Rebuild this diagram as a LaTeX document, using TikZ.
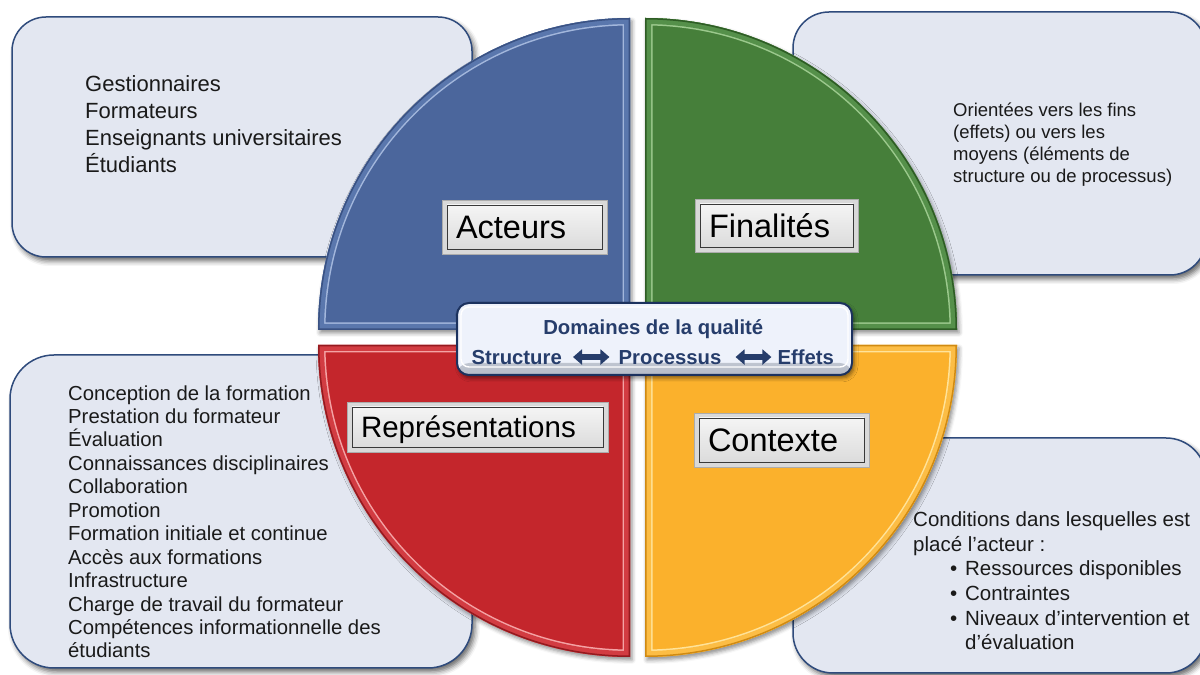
\documentclass[tikz,border=0pt]{standalone}
\usepackage{fontspec}
\setmainfont{Liberation Sans}
\usetikzlibrary{arrows.meta,shadows.blur}

% palette
\definecolor{boxfill}{HTML}{E3E7F1}
\definecolor{boxedge}{HTML}{2F4B7C}
\definecolor{bodytext}{HTML}{1A1A1A}
\definecolor{navytext}{HTML}{263D6B}
\definecolor{cboxfill}{HTML}{EEF2FB}
\definecolor{cboxgrey}{HTML}{B4BAC6}
\definecolor{cboxedge}{HTML}{1C325E}

\definecolor{blueQ}{HTML}{4B669C}
\definecolor{blueEdge}{HTML}{3A5283}
\definecolor{blueBev}{HTML}{5A77AD}
\definecolor{blueHi}{HTML}{A3B7DC}

\definecolor{greenQ}{HTML}{467F3A}
\definecolor{greenEdge}{HTML}{2E5C25}
\definecolor{greenBev}{HTML}{55904A}
\definecolor{greenHi}{HTML}{9CC98D}

\definecolor{redQ}{HTML}{C4262C}
\definecolor{redEdge}{HTML}{951A1F}
\definecolor{redBev}{HTML}{D23C42}
\definecolor{redHi}{HTML}{F4A3A5}

\definecolor{yellowQ}{HTML}{FBB12C}
\definecolor{yellowEdge}{HTML}{D08A12}
\definecolor{yellowBev}{HTML}{FCBD45}
\definecolor{yellowHi}{HTML}{FFE39A}

% quarter disc with a bevelled rim: #1 path, #2 fill, #3 rim, #4 bevel band, #5 highlight
\newcommand{\bevelquad}[5]{%
  \fill[#2, blur shadow={shadow xshift=2pt,shadow yshift=-3pt,shadow blur radius=4pt,shadow opacity=45}] #1;
  \begin{scope}
    \clip #1;
    \draw[line width=15pt, #5] #1;
    \draw[line width=12pt, #4] #1;
    \draw[line width=3pt, #3] #1;
  \end{scope}}

\begin{document}
\begin{tikzpicture}[x=1pt,y=1pt,
  infobox/.style={draw=boxedge, line width=1.5pt, fill=boxfill, inner sep=0pt,
    blur shadow={shadow xshift=3pt,shadow yshift=-4pt,shadow blur radius=5pt,shadow opacity=60}},
  listtext/.style={anchor=base west, align=left, inner sep=0pt, text=bodytext},
  labelbox/.style={draw=gray!65, line width=0.8pt, fill=gray!30, inner xsep=14pt, inner ysep=0pt,
    align=left, text depth=0pt, text=black,
    path picture={\draw[gray!45!black, line width=0.9pt, top color=gray!6, bottom color=gray!30]
      ([shift={(5pt,5pt)}]path picture bounding box.south west) rectangle
      ([shift={(-5pt,-5pt)}]path picture bounding box.north east);}},
  ctext/.style={font=\bfseries\fontsize{20.3}{24}\selectfont, text=navytext, inner sep=0pt,
    text height=14.5pt, text depth=0pt},
  dblarrow/.style={draw=navytext, line width=6pt,
    {Triangle[length=9pt,width=15pt]}-{Triangle[length=9pt,width=15pt]}}
]
\useasboundingbox (0,0) rectangle (1200,675);
\clip (0,0) rectangle (1200,675);

% ---- description panels (behind the disc) ----
\node[infobox, rounded corners=34pt, minimum width=460pt, minimum height=240pt] (acteursbox) at (242,538) {};
\node[infobox, rounded corners=36pt, minimum width=413pt, minimum height=263pt] (finalitesbox) at (999.5,531.5) {};
\node[infobox, rounded corners=44pt, minimum width=462pt, minimum height=313pt] (representbox) at (241,163.5) {};
\node[infobox, rounded corners=40pt, minimum width=413pt, minimum height=235pt] (contextebox) at (999.5,119.5) {};

% lists: anchored on the baseline of their last line
\node[listtext, font=\fontsize{22}{27}\selectfont] (acteurslist) at (85,502)
  {Gestionnaires\\Formateurs\\Enseignants universitaires\\Étudiants};

\node[listtext, font=\fontsize{18.5}{22}\selectfont] (finaliteslist) at (953,492)
  {Orientées vers les fins\\(effets) ou vers les\\moyens (éléments de\\structure ou de processus)};

\node[listtext, font=\fontsize{20.3}{23.45}\selectfont] (representlist) at (68,17)
  {Conception de la formation\\Prestation du formateur\\Évaluation\\Connaissances disciplinaires\\%
   Collaboration\\Promotion\\Formation initiale et continue\\Accès aux formations\\Infrastructure\\%
   Charge de travail du formateur\\Compétences informationnelle des\\étudiants};

\node[listtext, font=\fontsize{20.5}{24.6}\selectfont] (contextelist) at (913,25.3)
  {Conditions dans lesquelles est\\placé l’acteur :\\%
   \hspace*{37pt}\makebox[15pt][l]{\textbullet}Ressources disponibles\\%
   \hspace*{37pt}\makebox[15pt][l]{\textbullet}Contraintes\\%
   \hspace*{37pt}\makebox[15pt][l]{\textbullet}Niveaux d’intervention et\\%
   \hspace*{52pt}d’évaluation};

% ---- the four quarters of the disc ----
\bevelquad{(630,345) -- (630,657) arc[start angle=90,end angle=180,radius=312] -- cycle}{blueQ}{blueEdge}{blueBev}{blueHi}
\bevelquad{(645,345) -- (957,345) arc[start angle=0,end angle=90,radius=312] -- cycle}{greenQ}{greenEdge}{greenBev}{greenHi}
\bevelquad{(630,330) -- (318,330) arc[start angle=180,end angle=270,radius=312] -- cycle}{redQ}{redEdge}{redBev}{redHi}
\bevelquad{(645,330) -- (645,18) arc[start angle=270,end angle=360,radius=312] -- cycle}{yellowQ}{yellowEdge}{yellowBev}{yellowHi}

% ---- quarter labels ----
\node[labelbox, font=\fontsize{32.5}{36}\selectfont, text height=23.4pt,
      text width=137pt, minimum height=54pt] (acteurs) at (524.5,448) {Acteurs};
\node[labelbox, font=\fontsize{32.5}{36}\selectfont, text height=23.4pt,
      text width=135pt, minimum height=53pt] (finalites) at (776.5,449.5) {Finalités};
\node[labelbox, font=\fontsize{29.5}{33}\selectfont, text height=21.2pt,
      text width=233pt, minimum height=50pt] (represent) at (477.5,248) {Représentations};
\node[labelbox, font=\fontsize{32.5}{36}\selectfont, text height=23.4pt,
      text width=147pt, minimum height=54pt] (contexte) at (781.5,235) {Contexte};

% ---- central panel ----
\node[draw=cboxedge, line width=2pt, fill=cboxfill, rounded corners=12pt,
      minimum width=395pt, minimum height=72pt, inner sep=0pt,
      blur shadow={shadow xshift=2pt,shadow yshift=-3pt,shadow blur radius=4pt,shadow opacity=50},
      path picture={
        \fill[top color=cboxfill, bottom color=cboxgrey]
          ([yshift=-2pt]path picture bounding box.south west) rectangle
          ([yshift=12pt]path picture bounding box.south east);
        \draw[white, line width=1.4pt, rounded corners=8pt]
          ([shift={(4pt,8pt)}]path picture bounding box.south west) rectangle
          ([shift={(-4pt,-4pt)}]path picture bounding box.north east);}]
  (domaines) at (654.5,336) {};

\node[ctext, anchor=base] (dqtitle) at (653.3,340.7) {Domaines de la qualité};
\node[ctext, anchor=base] (structure) at (516.7,310.7) {Structure};
\node[ctext, anchor=base] (processus) at (670,310.7) {Processus};
\node[ctext, anchor=base] (effets) at (805.8,310.7) {Effets};

\draw[dblarrow, shorten <=11pt, shorten >=9pt] (structure.east) -- (processus.west);
\draw[dblarrow, shorten <=14pt, shorten >=6pt] (processus.east) -- (effets.west);

\end{tikzpicture}
\end{document}
